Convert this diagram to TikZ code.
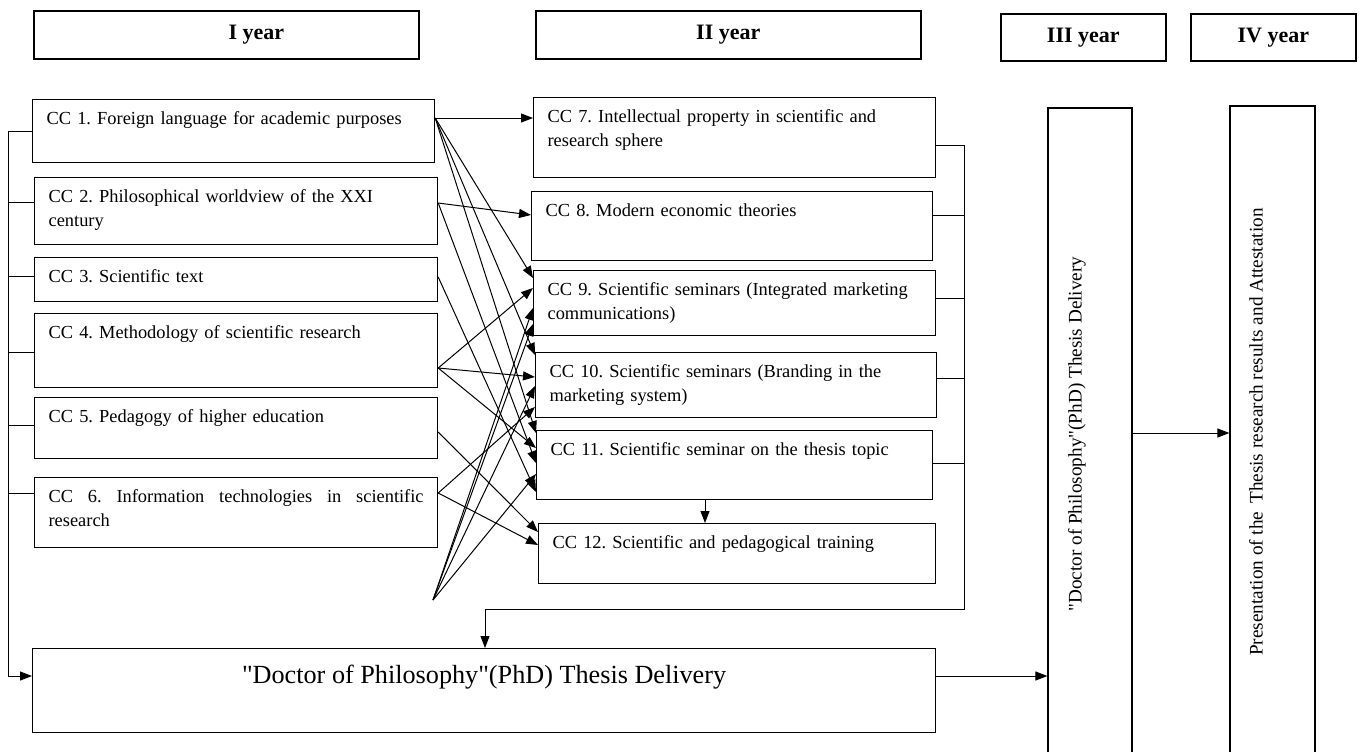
\documentclass[tikz,border=0pt]{standalone}
\usepackage{fontspec}
\setmainfont{Liberation Serif}
\usetikzlibrary{arrows.meta}
\frenchspacing
\newcommand{\ccfont}{\fontsize{9.2}{12}\selectfont\hyphenpenalty=10000 }
\newcommand{\sidefont}{\fontsize{9.6}{12}\selectfont}
\tikzset{
	box/.style={draw,line width=0.6pt,inner sep=0pt},
	yearbox/.style={box,anchor=north west,line width=0.8pt,font=\fontsize{11}{13}\selectfont\bfseries},
	ccbox/.style 2 args={box,anchor=north west,align=left,inner xsep=7pt,text height=12.5pt,text width=#1,text depth=#2,font=\ccfont},
	arr/.style={-{Triangle[length=6pt,width=4.5pt]},line width=0.5pt},
	link/.style={line width=0.5pt}
}
\begin{document}
\begin{tikzpicture}[x=0.5pt,y=-0.5pt]
	\clip (0,0) rectangle (1359,751);

	% years
	\node [yearbox,minimum width=192.5pt,minimum height=24pt] (yr1) at (33,10) {\hspace*{30pt}I year};
	\node [yearbox,minimum width=192.5pt,minimum height=24pt] (yr2) at (535,10) {II year};
	\node [yearbox,minimum width=82.5pt,minimum height=23.5pt] (yr3) at (1000,13) {III year};
	\node [yearbox,minimum width=82.5pt,minimum height=23.5pt] (yr4) at (1190,13) {IV year};

	% first year
	\node [ccbox={187pt}{19pt}] (cc1) at (32,99) {CC 1. Foreign language for academic purposes};
	\node [ccbox={187.5pt}{21pt}] (cc2) at (34,177) {CC 2. Philosophical worldview of the XXI\\century};
	\node [ccbox={187.5pt}{9.5pt}] (cc3) at (34,257) {CC 3. Scientific text};
	\node [ccbox={187.5pt}{24.5pt}] (cc4) at (34,313) {CC 4. Methodology of scientific research};
	\node [ccbox={187.5pt}{18pt}] (cc5) at (34,397) {CC 5. Pedagogy of higher education};
	\node [ccbox={187.5pt}{22.5pt},align=justify] (cc6) at (34,477) {CC 6. Information technologies in scientific\linebreak research};

	% second year
	\node [ccbox={187pt}{27.5pt}] (cc7) at (533,97) {CC 7. Intellectual property in scientific and\\research sphere};
	\node [ccbox={186.5pt}{22pt}] (cc8) at (531,191) {CC 8. Modern economic theories};
	\node [ccbox={187pt}{20pt}] (cc9) at (533,270) {CC 9. Scientific seminars (Integrated marketing\\communications)};
	\node [ccbox={186.5pt}{20pt}] (cc10) at (535,352) {CC 10. Scientific seminars (Branding in the\\marketing system)};
	\node [ccbox={184pt}{22pt}] (cc11) at (536,430) {CC 11. Scientific seminar on the thesis topic};
	\node [ccbox={184.5pt}{17.5pt}] (cc12) at (538,523) {CC 12. Scientific and pedagogical training};

	\node [box,anchor=north west,minimum width=451.5pt,text height=17.5pt,text depth=24.5pt,font=\fontsize{13.1}{15}\selectfont] (thesis) at (32,648) {\textquotedbl Doctor of Philosophy\textquotedbl(PhD) Thesis Delivery};

	% third and fourth year
	\node [box,rotate=90,minimum width=326pt,minimum height=42pt,text height=7pt,text depth=15.4pt,font=\sidefont] (yr3box) at (1090,434) {\textquotedbl Doctor of Philosophy\textquotedbl(PhD) Thesis Delivery};
	\node [box,rotate=90,minimum width=326pt,minimum height=42.5pt,text height=7pt,text depth=16.9pt,font=\sidefont] (yr4box) at (1272.5,432) {Presentation of the\hspace{4pt}Thesis research results and Attestation};

	% start points of the links
	\coordinate (o1) at (cc1.east |- 0,118);
	\coordinate (o2) at (cc2.east |- 0,203);
	\coordinate (o3) at (cc3.east |- 0,277);
	\coordinate (o4) at (cc4.east |- 0,368);
	\coordinate (o5) at (cc5.east |- 0,432);
	\coordinate (o6) at (cc6.east |- 0,493);
	\coordinate (fan) at (433,600);
	\coordinate (lbus) at (8,676);
	\coordinate (rbus) at (964,609);

	\foreach \s/\t/\y in {1/7/118,1/9/278,1/10/355,1/11/433,2/8/215,2/11/463,3/11/492,4/9/288,4/10/377,4/11/448,5/12/532,6/10/407,6/12/545}
		\draw [arr] (o\s) -- (cc\t.west |- 0,\y);
	\foreach \t/\y in {9/308,9/324,10/386,11/474}
		\draw [arr] (fan) -- (cc\t.west |- 0,\y);

	% left bracket
	\draw [arr] (cc1.west) -| (lbus) -- (thesis.west |- lbus);
	\foreach \n/\y in {2/202,3/276,4/352,5/425,6/493}
		\draw [link] (cc\n.west |- 0,\y) -- (lbus |- 0,\y);

	% right bracket
	\draw [arr] (cc7.east |- 0,145) -| (rbus) -| (thesis.north -| 485,0);
	\foreach \n/\y in {8/215,9/298,10/378,11/463}
		\draw [link] (cc\n.east |- 0,\y) -- (rbus |- 0,\y);

	\draw [arr] (cc11.south -| 705,0) -- (cc12.north -| 705,0);
	\draw [arr] (thesis.east |- 0,676) -- (yr3box.north |- 0,676);
	\draw [arr] (yr3box.south |- 0,433) -- (yr4box.north |- 0,433);
\end{tikzpicture}
\end{document}
